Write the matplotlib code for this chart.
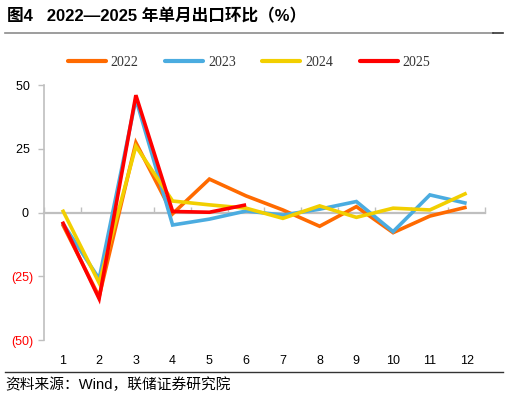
import numpy as np
import matplotlib
matplotlib.use("Agg")
import matplotlib.pyplot as plt
from matplotlib.lines import Line2D

plt.rcParams['font.family'] = ['Liberation Sans', 'Noto Sans CJK SC', 'DejaVu Sans']

months = [1, 2, 3, 4, 5, 6, 7, 8, 9, 10, 11, 12]
month_labels = [str(m) for m in months]
y2022 = [-4.5, -33.0, 27.4, -0.5, 13.1, 6.5, 1.0, -5.4, 2.3, -7.9, -1.4, 2.1]
y2023 = [-4.0, -26.0, 44.5, -4.9, -2.6, 0.6, -1.0, 1.3, 4.3, -7.5, 6.9, 3.6]
y2024 = [1.1, -27.6, 26.0, 4.5, 3.0, 1.7, -2.3, 2.6, -1.9, 1.7, 1.0, 7.6]
y2025 = [-3.6, -33.8, 46.0, 0.4, 0.1, 3.0]
series_names = ['2022', '2023', '2024', '2025']
yticks = [-50, -25, 0, 25, 50]
ytick_labels = ['(50)', '(25)', '0 ', '25 ', '50 ']

colors = ['#FF6A00', '#4BACE0', '#F2CF00', '#FF0000']

W, H = 509, 397
fig = plt.figure(figsize=(W / 100, H / 100), dpi=100)
ax = fig.add_axes([44 / W, 1 - 340 / H, (485 - 44) / W, (340 - 85) / H])

series = [y2022, y2023, y2024, y2025]
for name, vals, c in zip(series_names, series, colors):
    ax.plot(months[:len(vals)], vals, color=c, lw=2.6, label=name,
            solid_joinstyle='miter', solid_capstyle='butt', zorder=3)

ax.set_xlim(0.5, 12.5)
ax.set_ylim(-50, 50)

grey = '#BFBFBF'
for s in ['top', 'right']:
    ax.spines[s].set_visible(False)
ax.spines['left'].set_color(grey)
ax.spines['left'].set_linewidth(1.2)

# category axis line at zero with tick marks between categories
ax.spines['bottom'].set_position(('data', 0))
ax.spines['bottom'].set_color(grey)
ax.spines['bottom'].set_linewidth(1.6)
ax.spines['bottom'].set_zorder(1)
ax.set_xticks(np.arange(0.5, 13, 1.0))
ax.set_xticklabels([])
ax.tick_params(axis='x', direction='in', length=4, width=1, color=grey)

ax.set_yticks(yticks)
ax.set_yticklabels(ytick_labels, fontsize=9)
for lbl, v in zip(ax.get_yticklabels(), yticks):
    lbl.set_color('#FF0000' if v < 0 else '#000000')
ax.tick_params(axis='y', length=4, width=1, color=grey, pad=4)

# month labels at the bottom of the plot area
sec = ax.secondary_xaxis(0)
sec.set_xticks(months)
sec.set_xticklabels(month_labels, fontsize=9)
sec.tick_params(axis='x', length=0, pad=11)
for s in sec.spines.values():
    s.set_visible(False)

leg = fig.legend(ncol=4, loc='center', bbox_to_anchor=(249 / W, 1 - 62 / H),
                 frameon=False, handlelength=2.75, handletextpad=0.35,
                 columnspacing=1.9, prop={'family': 'Liberation Serif', 'size': 10})
for t in leg.get_texts():
    t.set_color('#333333')
for h in leg.legend_handles:
    h.set_linewidth(3)
    h.set_solid_capstyle('round')

# title and source
fig.text(7 / W, 1 - 16 / H, '图4   2022—2025 年单月出口环比（%）', fontsize=12,
         fontweight='bold', va='center', ha='left',
         family=['Liberation Sans', 'Noto Sans CJK SC'])
fig.add_artist(Line2D([5 / W, 493 / W], [1 - 33 / H, 1 - 33 / H], color='#8C8C8C', lw=1.2))
fig.add_artist(Line2D([493 / W, 503 / W], [1 - 33 / H, 1 - 33 / H], color='#333333', lw=1.2))
fig.add_artist(Line2D([5 / W, 503 / W], [1 - 372 / H, 1 - 372 / H], color='#333333', lw=1.0))
fig.text(5 / W, 1 - 385 / H, '资料来源：Wind，联储证券研究院', fontsize=10.6,
         va='center', ha='left', family=['Liberation Sans', 'Noto Sans CJK SC'])

fig.savefig('out.png', dpi=100)
